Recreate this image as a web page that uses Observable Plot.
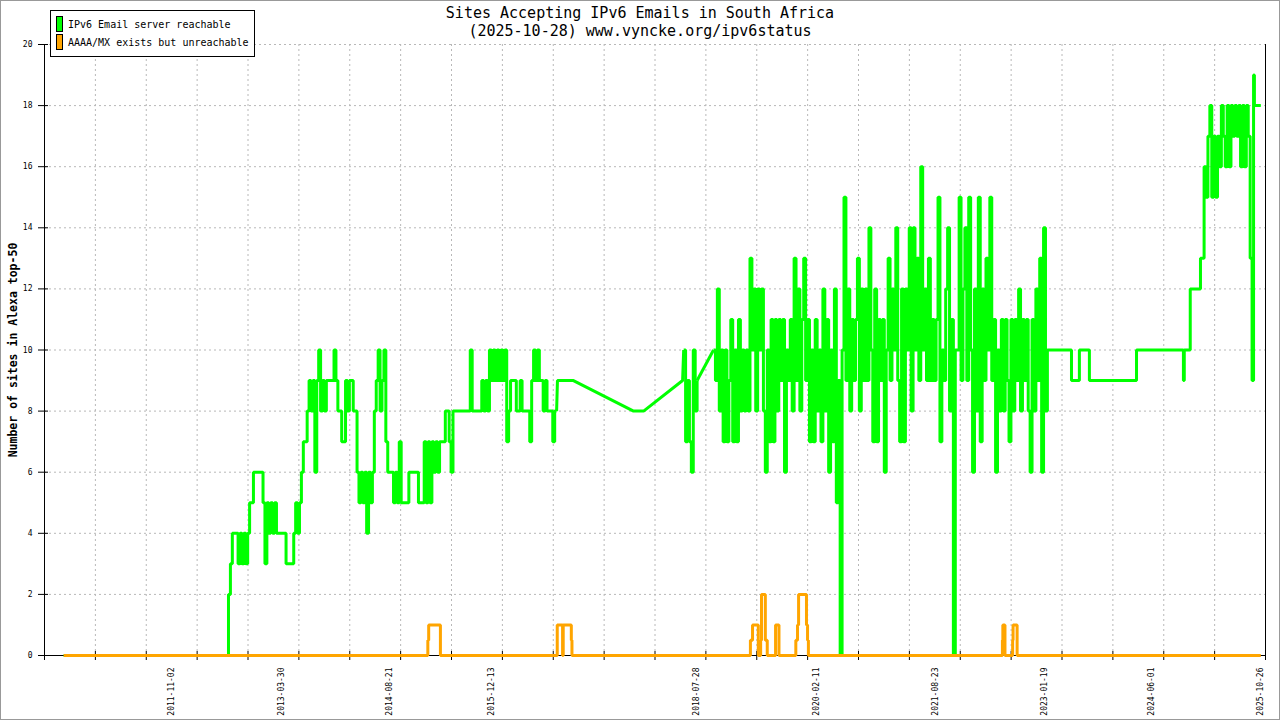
<!DOCTYPE html>
<html>
<head>
<meta charset="utf-8">
<script src="https://cdn.jsdelivr.net/npm/d3@7"></script>
<script src="https://cdn.jsdelivr.net/npm/@observablehq/plot@0.6"></script>
<style>
  body { margin: 0; background: #fff; }
  #wrap { position: relative; width: 1280px; height: 720px; overflow: hidden; font-family: "DejaVu Sans Mono", monospace; color: #000; }
  #frame { position: absolute; left: 0; top: 0; width: 1280px; height: 720px; box-sizing: border-box; border: 1px solid #999; pointer-events: none; }
  #title { position: absolute; left: 0; top: 4px; width: 1280px; text-align: center; font-size: 15px; line-height: 18px; }
  #legend { position: absolute; left: 50px; top: 10px; width: 203px; height: 45px; border: 1px solid #000; background: #fff; font-size: 10px; }
  .row { position: absolute; left: 5px; height: 16px; display: flex; align-items: center; white-space: nowrap; }
  .sw { width: 5px; height: 14px; border: 1px solid #000; margin-right: 5px; }
  #ylabel { position: absolute; left: 13px; top: 350px; transform: translate(-50%, -50%) rotate(-90deg); font-weight: bold; font-size: 11.5px; white-space: nowrap; }
</style>
</head>
<body>
<div id="wrap">
  <div id="chart"></div>
  <div id="title">Sites Accepting IPv6 Emails in South Africa<br>(2025-10-28) www.vyncke.org/ipv6status</div>
  <div id="legend">
    <div class="row" style="top:5px"><div class="sw" style="background:#00ff00"></div>IPv6 Email server reachable</div>
    <div class="row" style="top:23px"><div class="sw" style="background:#ffa500"></div>AAAA/MX exists but unreachable</div>
  </div>
  <div id="ylabel">Number of sites in Alexa top-50</div>
  <div id="frame"></div>
</div>
<script>
// sites reachable over IPv6 -- explicit [date, count] points where the series is sparse,
// and blocks sampled every 9 days where it jitters a lot
const sampleDays = 9;

const reachZero = [["2010-06-14", 0], ["2012-07-24", 0]];

const reachAStart = "2012-07-26";
const reachA = [
  2,3,4,4,4,3,4,3,4,3,
  4,5,5,6,6,6,6,6,5,3,
  5,4,5,4,5,4,4,4,4,4,
  3,3,3,3,4,5,4,5,6,7,
  7,8,9,8,9,6,9,10,8,9,
  8,9,9,9,9,10,9,8,8,7,
  7,9,8,9,9,8,8,6,5,6,
  5,6,4,6,5,6,8,9,10,8,
  9,10,7,6,6,6,5,6,5,7,
  5,5,5,5,6,6,6,6,6,5,
  5,5,7,5,7,5,7,6,7,6,
  7,7,7,8,8,7,6,8,8,8,
  8,8,8,8,8,8,10,8,8,8,
  8,8,9,8,9,8,10,9,10,9,
  10,9,10,9,10,7,8,9,9,9,
  8,8,9,8,8,8,8,7,9,10,
  9,10,9,9,8,9,8,8,8,7,
  8,8
];

// sparse stretch 2016-2018, drawn as straight lines between readings
const reachGap = [["2016-10-16", 9], ["2016-12-30", 9], ["2017-10-08", 8], ["2017-11-24", 8], ["2018-05-26", 9]];

const reachB1Start = "2018-05-31";
const reachB1 = [10,7,9,7,6,10,8,9];

const reachB2Start = "2018-10-18";
const reachB2 = [
  10,9,12,8,10,7,10,7,9,11,
  7,10,7,11,8,10,8,10,8,13,
  10,12,8,12,10,12,8,6,10,7,
  11,7,11,8,11,9,11,6,10,9,
  11,8,13,9,12,8,11,13,9,11,
  7,10,7,11,8,10,7,12,8,11,
  6,10,7,12,5,9,0,10,15,9,
  12,8,11,9,11,13,8,12,9,12,
  9,14,10,7,12,7,11,9,11,6,
  10,13,9,12,10,14,9,7,12,7,
  12,10,14,8,14,10,13,9,16,10,
  12,9,13,9,11,9,11,15,7,10,
  9,12,14,8,11,0,10,10,15,9,
  12,14,9,15,10,6,12,8,15,7,
  12,9,13,10,15,9,11,6,10,8,
  11,8,11,9,7,11,8,11,9,12,
  8,11,9,11,8,6,11,8,12,9,
  13,6,14,8,10
];

const reachLate = [
  ["2023-05-14", 10], ["2023-05-24", 9], ["2023-06-21", 9], ["2023-06-30", 10],
  ["2023-08-07", 10], ["2023-08-16", 9], ["2024-03-10", 9], ["2024-03-24", 10],
  ["2024-10-25", 10], ["2024-10-30", 9], ["2024-11-03", 10], ["2024-11-26", 10],
  ["2024-12-01", 12], ["2025-01-13", 12], ["2025-01-18", 13], ["2025-01-31", 13]
];

const reachCStart = "2025-02-04";
const reachC = [16,15,17,18,15,17,15,17,16,18,17,16,18,16,18,17,18,17,18,16,18,16,18,17,13,9];

const reachEnd = [["2025-09-24", 19], ["2025-09-28", 18], ["2025-10-28", 18]];

// AAAA/MX present but unreachable
const unreachPoints = [
  ["2010-06-14", 0], ["2015-02-13", 0], ["2015-02-16", 0.5], ["2015-02-20", 1], ["2015-04-12", 1], ["2015-04-16", 0],
  ["2016-10-12", 0], ["2016-10-15", 1], ["2016-11-06", 1], ["2016-11-09", 0], ["2016-11-12", 1], ["2016-12-16", 1], ["2016-12-20", 0.5], ["2016-12-23", 0],
  ["2019-04-05", 0], ["2019-04-09", 0.5], ["2019-04-19", 1], ["2019-05-12", 1], ["2019-05-16", 0],
  ["2019-05-24", 0], ["2019-05-27", 0.5], ["2019-05-31", 2], ["2019-06-14", 2], ["2019-06-18", 0.5], ["2019-06-23", 0.5], ["2019-06-27", 0],
  ["2019-08-03", 0], ["2019-08-05", 1], ["2019-08-19", 1], ["2019-08-21", 0],
  ["2019-11-05", 0], ["2019-11-08", 0.5], ["2019-11-16", 1], ["2019-11-21", 2], ["2019-12-24", 2], ["2019-12-28", 1], ["2020-01-02", 0.5], ["2020-01-06", 0],
  ["2022-07-01", 0], ["2022-07-04", 0.5], ["2022-07-06", 1], ["2022-07-13", 1], ["2022-07-16", 0],
  ["2022-08-18", 0], ["2022-08-21", 0.5], ["2022-08-23", 1], ["2022-09-08", 1], ["2022-09-11", 0],
  ["2025-10-28", 0]
];

// axis
const xStart = "2010-03-16", xEnd = "2025-11-19";
const xLabels = ["2011-11-02", "2013-03-30", "2014-08-21", "2015-12-13", "2018-07-28",
                 "2020-02-11", "2021-08-23", "2023-01-19", "2024-06-01", "2025-10-26"];
const yTicks = [0, 2, 4, 6, 8, 10, 12, 14, 16, 18, 20];

const parse = d3.utcParse("%Y-%m-%d");
const DAY = 864e5;
const listed = pairs => pairs.map(([d, v]) => ({date: parse(d), count: v}));
const sampled = (start, vals) => {
  const t0 = +parse(start);
  return vals.map((v, i) => ({date: new Date(t0 + i * sampleDays * DAY), count: v}));
};

// stepped pieces, and the straight bridges between them
const partA = [...listed(reachZero), ...sampled(reachAStart, reachA)];
const partB1 = sampled(reachB1Start, reachB1);
const partB = [...sampled(reachB2Start, reachB2), ...listed(reachLate), ...sampled(reachCStart, reachC), ...listed(reachEnd)];
const stepped = [
  ...partA.map(d => ({...d, seg: "a"})),
  ...partB1.map(d => ({...d, seg: "b1"})),
  ...partB.map(d => ({...d, seg: "b"}))
];
const bridges = [
  ...[partA.at(-1), ...listed(reachGap), partB1[0]].map(d => ({...d, seg: "g1"})),
  ...[partB1.at(-1), partB[0]].map(d => ({...d, seg: "g2"}))
];
const unreach = listed(unreachPoints);

const xDomain = [parse(xStart), parse(xEnd)];
// 24 equal tick intervals along the axis, like the original
const xTicks = d3.range(25).map(i => new Date(+xDomain[0] + i * (xDomain[1] - xDomain[0]) / 24));
const labelDates = xLabels.map(parse);
const gridStyle = {stroke: "#b8b8b8", strokeOpacity: 1, strokeDasharray: "2,3"};
const blank = () => "";
const lineStyle = {x: "date", y: "count", z: "seg", strokeWidth: 3, strokeLinejoin: "miter", strokeLinecap: "butt"};

const chart = Plot.plot({
  width: 1280,
  height: 720,
  marginLeft: 44,
  marginRight: 15,
  marginTop: 44,
  marginBottom: 65,
  style: {fontFamily: "DejaVu Sans Mono", fontSize: "8px", background: "transparent", color: "#000"},
  x: {type: "utc", domain: xDomain, label: null},
  y: {domain: [0, 20], label: null},
  marks: [
    Plot.gridX(xTicks.slice(1, -1), gridStyle),
    Plot.gridY(yTicks.slice(1), gridStyle),
    Plot.ruleX(xDomain, {stroke: "#000"}),
    Plot.ruleY([0], {stroke: "#000"}),
    Plot.axisY(yTicks, {anchor: "left", tickSize: 10, dx: 4, tickFormat: blank, label: null, stroke: "#000"}),
    Plot.axisY(yTicks, {anchor: "left", tickSize: 0, tickPadding: 12, label: null, fill: "#000"}),
    Plot.axisX(xTicks, {anchor: "bottom", tickSize: 9, dy: -4, tickFormat: blank, label: null, stroke: "#000"}),
    Plot.axisX(labelDates, {anchor: "bottom", tickSize: 0, tickPadding: 12, tickRotate: -90, label: null, fill: "#000",
                            tickFormat: d3.utcFormat("%Y-%m-%d")}),
    Plot.line(bridges, {...lineStyle, stroke: "#00ff00"}),
    Plot.line(stepped, {...lineStyle, stroke: "#00ff00", curve: "step-after"}),
    Plot.line(unreach, {...lineStyle, z: null, stroke: "#ffa500", curve: "step-after"})
  ]
});
document.getElementById("chart").append(chart);
</script>
</body>
</html>
